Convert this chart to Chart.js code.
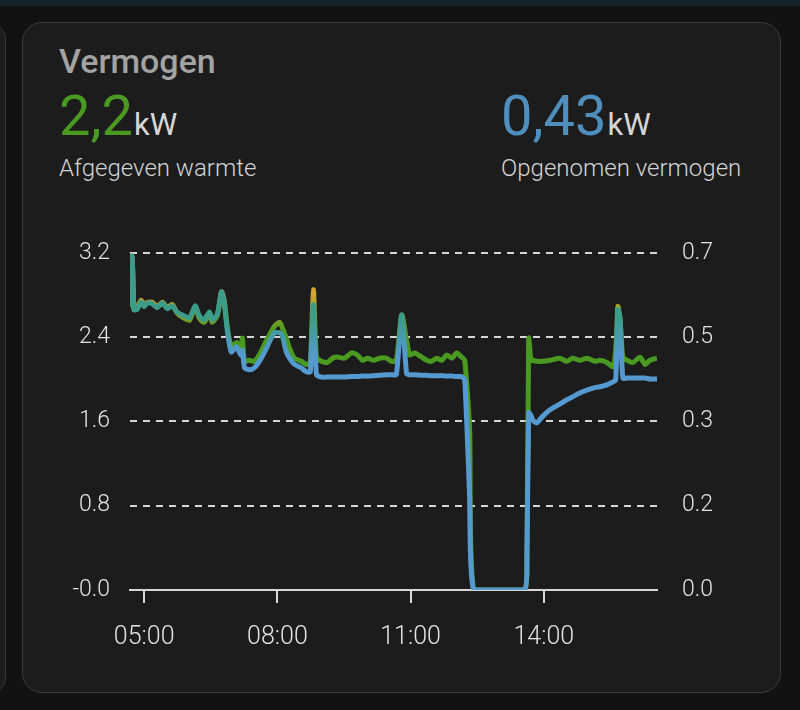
<!DOCTYPE html>
<html lang="nl">
<head>
<meta charset="UTF-8">
<title>Vermogen</title>
<script src="https://cdn.jsdelivr.net/npm/chart.js"></script>
<style>
  html, body { margin: 0; padding: 0; }
  body {
    width: 800px; height: 710px; overflow: hidden;
    background: #121212;
    font-family: Roboto, "Noto Sans", sans-serif;
    position: relative;
  }
  .topstrip { position: absolute; left: 0; top: 0; width: 800px; height: 6px; background: #16232a; }
  .sidecard {
    position: absolute; left: -30px; top: 22px; width: 34px; height: 671px;
    border: 1px solid #3a3a3a; border-radius: 18px; background: #1c1c1c;
  }
  .card {
    position: absolute; left: 22px; top: 22px; width: 757px; height: 669px;
    background: #1c1c1c; border: 1px solid #3c3c3c; border-radius: 20px;
  }
  .title { position: absolute; left: 36px; top: 18px; font-size: 34px; font-weight: 500; color: #a3a3a3; }
  .state { position: absolute; top: 60px; white-space: nowrap; }
  .state .val { font-size: 56px; font-weight: 400; }
  .state .unit { font-size: 31px; color: #d6d6d6; margin-left: 1px; }
  .state .name { display: block; font-size: 24px; font-weight: 300; color: #d4d4d4; margin-top: 5px; }
  .chart-box { position: absolute; left: 40px; top: 214px; width: 720px; height: 446px; }
</style>
</head>
<body>
<div class="topstrip"></div>
<div class="sidecard"></div>
<div class="card">
  <div class="title">Vermogen</div>
  <div class="state" style="left:36px">
    <span class="val" style="color:#4a9a22">2,2</span><span class="unit">kW</span>
    <span class="name">Afgegeven warmte</span>
  </div>
  <div class="state" style="left:478px">
    <span class="val" style="color:#4f8fbd">0,43</span><span class="unit">kW</span>
    <span class="name">Opgenomen vermogen</span>
  </div>
</div>
<div class="chart-box"><canvas id="vermogenChart"></canvas></div>

<script>
// tijdstippen (uur van de dag)
const hours = [4.68, 4.73, 4.77, 4.84, 4.93, 5.00, 5.07, 5.18, 5.29, 5.41, 5.52, 5.63, 5.74, 5.86, 6.02, 6.15,
  6.24, 6.35, 6.47, 6.53, 6.65, 6.74, 6.80, 6.87, 6.96, 7.08, 7.17, 7.21, 7.26, 7.37, 7.48, 7.59, 7.71, 7.82,
  7.93, 8.05, 8.11, 8.20, 8.27, 8.38, 8.54, 8.65, 8.74, 8.81, 8.88, 8.99, 9.13, 9.24, 9.35, 9.51, 9.67, 9.80,
  9.92, 10.03, 10.17, 10.30, 10.46, 10.57, 10.68, 10.80, 10.91, 10.98, 11.09, 11.25, 11.36, 11.47, 11.59, 11.70,
  11.81, 11.93, 12.04, 12.15, 12.22, 12.33, 12.42, 13.01, 13.57, 13.62, 13.66, 13.71, 13.75, 13.84, 13.98, 14.14,
  14.36, 14.52, 14.65, 14.81, 14.97, 15.15, 15.26, 15.42, 15.56, 15.62, 15.67, 15.72, 15.78, 15.87, 16.01, 16.17,
  16.28, 16.39, 16.55];

// Afgegeven warmte (kW, linker as)
const warmte = [2.69, 3.17, 2.66, 2.68, 2.75, 2.71, 2.73, 2.73, 2.69, 2.73, 2.68, 2.71, 2.63, 2.59, 2.56, 2.69,
  2.58, 2.54, 2.63, 2.54, 2.61, 2.83, 2.75, 2.50, 2.31, 2.35, 2.28, 2.39, 2.17, 2.18, 2.17, 2.23, 2.33, 2.42,
  2.50, 2.54, 2.49, 2.39, 2.30, 2.20, 2.17, 2.14, 2.16, 2.85, 2.21, 2.17, 2.16, 2.20, 2.21, 2.20, 2.25, 2.23,
  2.18, 2.20, 2.18, 2.20, 2.20, 2.17, 2.18, 2.61, 2.37, 2.23, 2.25, 2.21, 2.18, 2.17, 2.20, 2.18,
  2.23, 2.20, 2.25, 2.21, 2.18, 1.52, 0, 0, 0, 0.28, 2.39, 2.18, 2.18, 2.17, 2.17, 2.18,
  2.20, 2.17, 2.20, 2.18, 2.20, 2.17, 2.18, 2.16, 2.12, 2.28, 2.69, 2.56, 2.21, 2.18, 2.16, 2.21,
  2.14, 2.18, 2.20];

// Opgenomen vermogen (kW, rechter as)
const opgenomen = [0.588, 0.694, 0.582, 0.582, 0.598, 0.588, 0.596, 0.594, 0.586, 0.596, 0.584, 0.590, 0.577, 0.571, 0.565, 0.590,
  0.569, 0.561, 0.577, 0.561, 0.573, 0.619, 0.598, 0.540, 0.494, 0.505, 0.488, 0.498, 0.461, 0.457, 0.461, 0.474, 0.494, 0.515,
  0.534, 0.534, 0.528, 0.494, 0.482, 0.469, 0.461, 0.453, 0.453, 0.592, 0.447, 0.442, 0.442, 0.442, 0.442, 0.442, 0.443, 0.443,
  0.444, 0.444, 0.445, 0.446, 0.447, 0.447, 0.447, 0.571, 0.449, 0.447, 0.447, 0.446, 0.446, 0.445, 0.445, 0.445,
  0.444, 0.444, 0.443, 0.443, 0.436, 0.193, 0, 0, 0, 0.069, 0.368, 0.363, 0.353, 0.347, 0.361, 0.374,
  0.386, 0.395, 0.401, 0.409, 0.415, 0.420, 0.422, 0.426, 0.432, 0.436, 0.582, 0.561, 0.440, 0.440, 0.440, 0.440,
  0.440, 0.438, 0.438];

const xTickHours = [5, 8, 11, 14];
const xTickLabels = ['05:00', '08:00', '11:00', '14:00'];
const leftTicks = [0, 0.8, 1.6, 2.4, 3.2];
const leftLabels = ['-0.0', '0.8', '1.6', '2.4', '3.2'];
const rightTicks = [0, 0.175, 0.35, 0.525, 0.7];
const rightLabels = ['0.0', '0.2', '0.3', '0.5', '0.7'];

const GREEN = '#4a9a22';
const YELLOW = '#d2a52c';
const BLUE = '#5499cf';
const TEAL = '#3c9c8a';
const TICK_COLOR = '#e2e2e2';
const TICK_FONT = { family: 'Roboto', size: 23, weight: 300 };

// kleur van een lijn verloopt met de waarde (drempelkleuren)
function thresholdColor(axisId, hiValue, loValue, hiColor, loColor) {
    return function (context) {
        const chart = context.chart;
        if (!chart.chartArea) return loColor;
        const s = chart.scales[axisId];
        const g = chart.ctx.createLinearGradient(0, s.getPixelForValue(hiValue), 0, s.getPixelForValue(loValue));
        g.addColorStop(0, hiColor);
        g.addColorStop(1, loColor);
        return g;
    };
}

const toPoints = (vals) => hours.map((h, i) => ({ x: h, y: vals[i] }));

new Chart(document.getElementById('vermogenChart'), {
    type: 'line',
    data: {
        datasets: [
            {
                label: 'Opgenomen vermogen',
                data: toPoints(opgenomen),
                yAxisID: 'y1',
                borderColor: thresholdColor('y1', 0.56, 0.49, TEAL, BLUE),
                borderWidth: 5,
                pointRadius: 0,
                tension: 0.2,
                order: 0
            },
            {
                label: 'Afgegeven warmte',
                data: toPoints(warmte),
                yAxisID: 'y',
                borderColor: thresholdColor('y', 2.8, 2.45, YELLOW, GREEN),
                borderWidth: 5,
                pointRadius: 0,
                tension: 0.2,
                order: 1
            }
        ]
    },
    options: {
        responsive: true,
        maintainAspectRatio: false,
        animation: false,
        layout: { padding: { top: 0, left: 0, right: 0, bottom: 0 } },
        plugins: { legend: { display: false }, tooltip: { enabled: false } },
        scales: {
            x: {
                type: 'linear',
                min: 4.68,
                max: 16.55,
                afterBuildTicks: (scale) => { scale.ticks = xTickHours.map(v => ({ value: v })); },
                afterFit: (scale) => { scale.height = 70; },
                ticks: {
                    color: TICK_COLOR,
                    font: { family: 'Roboto', size: 25, weight: 300 },
                    padding: 20,
                    maxRotation: 0,
                    callback: (v) => xTickLabels[xTickHours.indexOf(v)]
                },
                grid: { drawOnChartArea: false, drawTicks: true, tickLength: 13, color: '#d8d8d8', lineWidth: 2 },
                border: { display: true, color: '#d8d8d8', width: 2 }
            },
            y: {
                position: 'left',
                min: 0,
                max: 3.2,
                afterBuildTicks: (scale) => { scale.ticks = leftTicks.map(v => ({ value: v })); },
                afterFit: (scale) => { scale.width = 90; },
                ticks: {
                    color: TICK_COLOR,
                    font: TICK_FONT,
                    padding: 20,
                    callback: (v) => leftLabels[leftTicks.indexOf(v)]
                },
                grid: { color: 'rgba(235,235,235,0.9)', lineWidth: 2, drawTicks: false },
                border: { display: false, dash: [7, 6] }
            },
            y1: {
                position: 'right',
                min: 0,
                max: 0.7,
                afterBuildTicks: (scale) => { scale.ticks = rightTicks.map(v => ({ value: v })); },
                afterFit: (scale) => { scale.width = 103; },
                ticks: {
                    color: TICK_COLOR,
                    font: TICK_FONT,
                    padding: 25,
                    callback: (v) => rightLabels[rightTicks.indexOf(v)]
                },
                grid: { drawOnChartArea: false, drawTicks: false },
                border: { display: false }
            }
        }
    }
});
</script>
</body>
</html>
